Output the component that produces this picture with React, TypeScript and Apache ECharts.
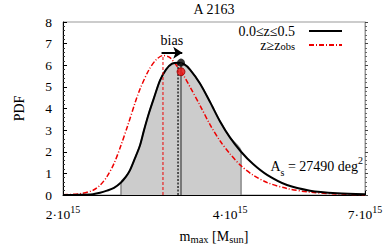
import React, { useEffect, useRef } from "react";
import * as echarts from "echarts";

// masses in units of 1e15 M_sun
const blackMass = [2.0, 2.147, 2.265, 2.332, 2.4, 2.471, 2.544, 2.597, 2.641, 2.696, 2.753, 2.799, 2.858, 2.918, 2.991, 3.066, 3.144, 3.223, 3.304, 3.387, 3.53, 3.681, 3.837, 4.0, 4.186, 4.4, 4.663, 5.064, 5.572, 6.233, 7.0];
const blackPdf = [0.0, 0.01, 0.04, 0.1, 0.2, 0.33, 0.58, 0.85, 1.15, 1.7, 2.3, 3.0, 3.8, 4.5, 5.3, 5.8, 6.07, 6.12, 6.05, 5.8, 5.16, 4.3, 3.4, 2.65, 2.0, 1.43, 0.93, 0.46, 0.2, 0.08, 0.03];

const redMass = [2.0, 2.147, 2.265, 2.332, 2.4, 2.471, 2.544, 2.619, 2.696, 2.753, 2.858, 2.942, 3.028, 3.117, 3.223, 3.304, 3.387, 3.53, 3.681, 3.837, 4.0, 4.186, 4.4, 4.663, 5.064, 5.572, 6.233, 7.0];
const redPdf = [0.01, 0.06, 0.22, 0.45, 0.85, 1.45, 2.3, 3.25, 4.25, 4.9, 5.8, 6.25, 6.45, 6.35, 5.9, 5.5, 5.0, 4.15, 3.25, 2.5, 1.9, 1.35, 0.92, 0.58, 0.3, 0.13, 0.05, 0.01];

const shadeRange = [2.544, 4.186];
const redPeak = [3.028, 6.45];
const blackMode = [3.223, 6.12];
const markerMass = 3.263;
const blackDotPdf = 6.12;
const redDotPdf = 5.7;
const biasArrow = { from: 3.01, to: 3.28, level: 6.58 };
const xTickValues = [2, 4, 7];
const yRange = [0, 8];

const SERIF = "'Liberation Serif', 'DejaVu Serif', serif";
const lg = (m: number) => Math.log10(m);

export default function App() {
  const ref = useRef<HTMLDivElement>(null);
  useEffect(() => {
    if (!ref.current) return;
    const chart = echarts.init(ref.current, undefined, { renderer: "svg" });

    const blackData = blackMass.map((m, i) => [lg(m), blackPdf[i]]);
    const redData = redMass.map((m, i) => [lg(m), redPdf[i]]);
    const inside = blackMass
      .map((m, i) => [m, blackPdf[i]])
      .filter(([m]) => m >= shadeRange[0] && m <= shadeRange[1]);
    const shadeData = [
      [lg(shadeRange[0]), 0],
      ...inside.map(([m, v]) => [lg(m), v]),
      [lg(shadeRange[1]), 0],
    ];
    const xTicks = xTickValues.map(lg);

    chart.setOption({
      animation: false,
      title: {
        text: "A 2163",
        left: 214,
        top: 2,
        textAlign: "center",
        padding: 0,
        textStyle: { fontFamily: SERIF, fontSize: 14, fontWeight: "normal", color: "#000" },
      },
      grid: {
        left: 63,
        right: 21,
        top: 22,
        bottom: 57,
        show: true,
        borderColor: "#999",
        borderWidth: 1,
        backgroundColor: "transparent",
      },
      legend: {
        data: ["0.0≤z≤0.5", "z≥z_obs"],
        orient: "vertical",
        align: "right",
        right: 38,
        top: 19,
        itemWidth: 33,
        itemHeight: 10,
        itemGap: 0,
        selectedMode: false,
        itemStyle: { opacity: 0 },
        formatter: (n: string) => (n === "z≥z_obs" ? "z≥z{sub|obs}" : n),
        textStyle: {
          fontFamily: SERIF,
          fontSize: 14,
          color: "#000",
          lineHeight: 14,
          padding: [0, 9, 0, 0],
          rich: {
            sub: { fontFamily: SERIF, fontSize: 10.5, color: "#000", lineHeight: 7, verticalAlign: "bottom" },
          },
        },
      },
      xAxis: {
        type: "value",
        min: lg(2),
        max: lg(7),
        splitLine: { show: false },
        axisLine: { lineStyle: { color: "#000", width: 1 } },
        axisTick: { inside: true, length: 4, customValues: xTicks, lineStyle: { color: "#000" } },
        axisLabel: {
          customValues: xTicks,
          formatter: (v: number) => `${Math.round(Math.pow(10, v))}·10{sup|15}`,
          fontFamily: SERIF,
          fontSize: 13.5,
          color: "#000",
          lineHeight: 20,
          margin: 9,
          rich: {
            sup: { fontFamily: SERIF, fontSize: 10, color: "#000", lineHeight: 9, verticalAlign: "top" },
          },
        },
        name: "m{sub|max} [M{sub|sun}]",
        nameLocation: "middle",
        nameGap: 25,
        nameTextStyle: {
          fontFamily: SERIF,
          fontSize: 14,
          color: "#000",
          lineHeight: 16,
          rich: {
            sub: { fontFamily: SERIF, fontSize: 10.5, color: "#000", lineHeight: 6, verticalAlign: "bottom" },
          },
        },
      },
      yAxis: [
        {
          type: "value",
          min: yRange[0],
          max: yRange[1],
          interval: 1,
          splitLine: { show: false },
          axisLine: { show: true, lineStyle: { color: "#000" } },
          axisTick: { inside: true, length: 4, lineStyle: { color: "#000" } },
          minorTick: { show: true, splitNumber: 5, length: 2, lineStyle: { color: "#333" } },
          axisLabel: { fontFamily: SERIF, fontSize: 13.5, color: "#000", margin: 11 },
          name: "PDF",
          nameLocation: "middle",
          nameGap: 37,
          nameTextStyle: { fontFamily: SERIF, fontSize: 14, color: "#000" },
        },
        {
          type: "value",
          position: "right",
          min: yRange[0],
          max: yRange[1],
          interval: 1,
          splitLine: { show: false },
          axisLine: { show: true, lineStyle: { color: "#999" } },
          axisTick: { inside: false, length: 3, lineStyle: { color: "#444" } },
          minorTick: { show: true, splitNumber: 5, length: 2, lineStyle: { color: "#666" } },
          axisLabel: { show: false },
        },
      ],
      series: [
        {
          name: "shade",
          type: "line",
          data: shadeData,
          symbol: "none",
          smooth: 0.3,
          lineStyle: { color: "#888", width: 1.5 },
          areaStyle: { color: "#cccccc", opacity: 1 },
          z: 1,
        },
        {
          name: "z≥z_obs",
          type: "line",
          data: redData,
          symbol: "none",
          smooth: 0.3,
          lineStyle: { color: "#ee0000", width: 1.5, type: [5, 2, 1, 2] },
          itemStyle: { color: "#ee0000" },
          z: 3,
        },
        {
          name: "0.0≤z≤0.5",
          type: "line",
          data: blackData,
          symbol: "none",
          smooth: 0.3,
          lineStyle: { color: "#000", width: 2 },
          itemStyle: { color: "#000" },
          z: 4,
          markLine: {
            silent: true,
            symbol: ["none", "arrow"],
            symbolSize: 9,
            lineStyle: { color: "#000", width: 2, type: "solid" },
            itemStyle: { color: "#000" },
            label: {
              show: true,
              position: "middle",
              formatter: "bias",
              distance: 5,
              fontFamily: SERIF,
              fontSize: 14,
              color: "#000",
            },
            data: [
              [
                { coord: [lg(biasArrow.from), biasArrow.level] },
                { coord: [lg(biasArrow.to), biasArrow.level] },
              ],
            ],
          },
        },
        {
          name: "redPeakLine",
          type: "line",
          data: [[lg(redPeak[0]), 0], [lg(redPeak[0]), redPeak[1]]],
          symbol: "none",
          lineStyle: { color: "#ee0000", width: 1, type: [3, 2] },
          z: 5,
        },
        {
          name: "blackModeLine",
          type: "line",
          data: [[lg(blackMode[0]), 0], [lg(blackMode[0]), blackMode[1]]],
          symbol: "none",
          lineStyle: { color: "#000", width: 1.2, type: [2, 1.5] },
          z: 5,
        },
        {
          name: "markerLine",
          type: "line",
          data: [[lg(markerMass), 0], [lg(markerMass), blackDotPdf]],
          symbol: "none",
          lineStyle: { color: "#777", width: 2 },
          z: 5,
        },
        {
          name: "dots",
          type: "scatter",
          data: [
            { value: [lg(markerMass), blackDotPdf], itemStyle: { color: "#000" } },
            { value: [lg(markerMass), redDotPdf], itemStyle: { color: "#ee1111", borderColor: "#990000", borderWidth: 1 } },
          ],
          symbolSize: 8,
          z: 6,
        },
      ],
      graphic: [
        {
          type: "text",
          right: 23,
          top: 155,
          style: {
            text: "A{sub|s} = 27490 deg{sup|2}",
            fontFamily: SERIF,
            fontSize: 14,
            fill: "#000",
            lineHeight: 22,
            rich: {
              sub: { fontFamily: SERIF, fontSize: 10, fill: "#000", lineHeight: 8, verticalAlign: "bottom" },
              sup: { fontFamily: SERIF, fontSize: 10, fill: "#000", lineHeight: 9, verticalAlign: "top" },
            },
          },
        },
      ],
    });
    return () => chart.dispose();
  }, []);
  return (
    <div
      ref={ref}
      style={{ position: "fixed", left: 0, top: 0, width: 386, height: 252, background: "#fff" }}
    />
  );
}
